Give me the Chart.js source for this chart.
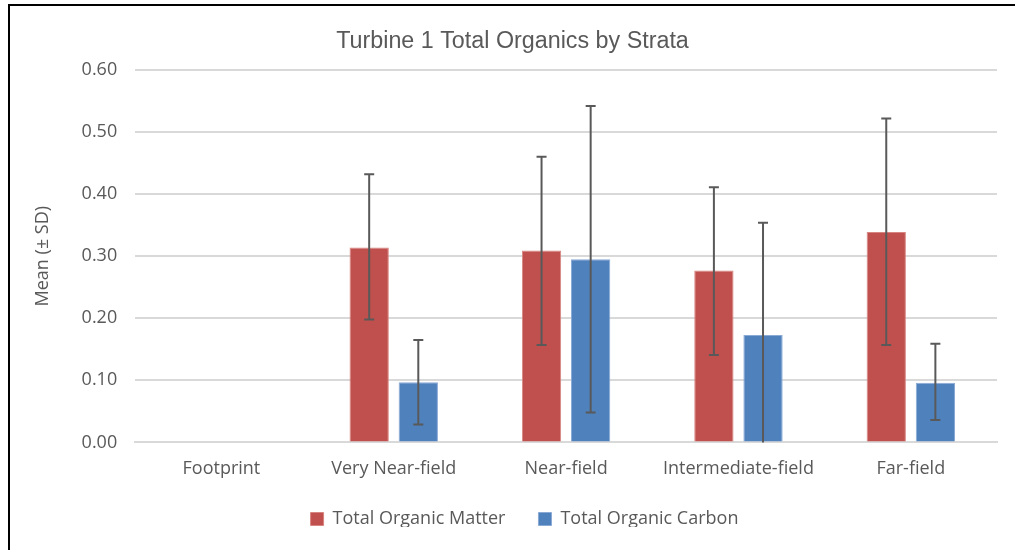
<!DOCTYPE html>
<html>
<head>
<meta charset="utf-8">
<script src="https://cdn.jsdelivr.net/npm/chart.js@4/dist/chart.umd.min.js"></script>
<style>
  body { margin: 0; background: #fff; }
  #frame { position: absolute; left: 0; top: 0; width: 1015px; height: 550px; }
  #frame::before { content: ''; position: absolute; left: 8px; top: 4px; width: 1007px; height: 546px;
    border-top: 2px solid #000; border-left: 2px solid #000; }
  #wrap { position: absolute; left: 10px; top: 6px; width: 1005px; height: 544px; }
</style>
</head>
<body>
<div id="frame"><div id="wrap"><canvas id="chart"></canvas></div></div>
<script>
const labels = ['Footprint', 'Very Near-field', 'Near-field', 'Intermediate-field', 'Far-field']
const tomMean = [null, 0.314, 0.309, 0.277, 0.339]
const tomLow = [null, 0.198, 0.157, 0.141, 0.157]
const tomHigh = [null, 0.432, 0.460, 0.411, 0.522]
const tocMean = [null, 0.097, 0.295, 0.173, 0.096]
const tocLow = [null, 0.029, 0.048, 0.000, 0.036]
const tocHigh = [null, 0.165, 0.542, 0.354, 0.159]

const errorBars = {
    id: 'errorBars',
    afterDatasetsDraw(chart) {
        const ctx = chart.ctx
        const y = chart.scales.y
        ctx.save()
        ctx.strokeStyle = '#595959'
        ctx.lineWidth = 2
        chart.data.datasets.forEach((ds, i) => {
            const meta = chart.getDatasetMeta(i)
            meta.data.forEach((bar, j) => {
                if (ds.low[j] == null) return
                const top = y.getPixelForValue(ds.high[j])
                const bot = y.getPixelForValue(ds.low[j])
                ctx.beginPath()
                ctx.moveTo(bar.x, top); ctx.lineTo(bar.x, bot)
                ctx.moveTo(bar.x - 5, top); ctx.lineTo(bar.x + 5, top)
                if (ds.low[j] > 0) { ctx.moveTo(bar.x - 5, bot); ctx.lineTo(bar.x + 5, bot) }
                ctx.stroke()
            })
        })
        ctx.restore()
    }
}

// wider gap between legend items without growing the legend box
const legendTweak = {
    id: 'legendTweak',
    beforeLayout(chart) {
        const lg = chart.legend
        if (lg && !lg._tweaked) {
            const fit = lg.fit
            lg.fit = function () { fit.call(this); this.height -= 11 }
            lg._tweaked = true
        }
    },
    afterLayout(chart) {
        const lg = chart.legend
        lg.top -= 11; lg.bottom -= 11
        lg.left += 12; lg.right += 12
    }
}

Chart.defaults.font.family = '"Open Sans", Lato, sans-serif'
Chart.defaults.color = '#595959'

const ctx = document.getElementById('chart').getContext('2d')
const chart = new Chart(ctx, {
    type: 'bar',
    data: {
        labels: labels,
        datasets: [{
            label: 'Total Organic Matter',
            data: tomMean,
            low: tomLow,
            high: tomHigh,
            backgroundColor: '#C0504D',
            borderColor: '#D88582',
            borderWidth: 1,
            barPercentage: 0.8,
            categoryPercentage: 0.57
        }, {
            label: 'Total Organic Carbon',
            data: tocMean,
            low: tocLow,
            high: tocHigh,
            backgroundColor: '#4F81BD',
            borderColor: '#8AAAD6',
            borderWidth: 1,
            barPercentage: 0.8,
            categoryPercentage: 0.57
        }]
    },
    options: {
        responsive: true,
        maintainAspectRatio: false,
        animation: false,
        layout: { padding: { left: 18, right: 18, top: 6, bottom: 12 } },
        plugins: {
            title: {
                display: true,
                text: 'Turbine 1 Total Organics by Strata',
                font: { family: '"Liberation Sans", Arial, sans-serif', size: 23.3, weight: 'normal' },
                color: '#595959',
                padding: { top: 16, bottom: 14 }
            },
            legend: {
                position: 'bottom',
                labels: { boxWidth: 13, boxHeight: 13, padding: 33, font: { size: 18 } }
            },
            tooltip: { enabled: false }
        },
        scales: {
            x: {
                grid: { display: false },
                border: { color: '#d9d9d9', width: 2 },
                ticks: { font: { size: 18 }, padding: 8 }
            },
            y: {
                min: 0,
                max: 0.6,
                ticks: { stepSize: 0.1, font: { size: 18 }, padding: 18, callback: v => v.toFixed(2) },
                grid: { color: '#d9d9d9', lineWidth: 2, drawTicks: false },
                border: { display: false },
                title: { display: true, text: 'Mean (± SD)', font: { size: 18 }, padding: { bottom: 10 } }
            }
        }
    },
    plugins: [errorBars, legendTweak]
})
</script>
</body>
</html>
